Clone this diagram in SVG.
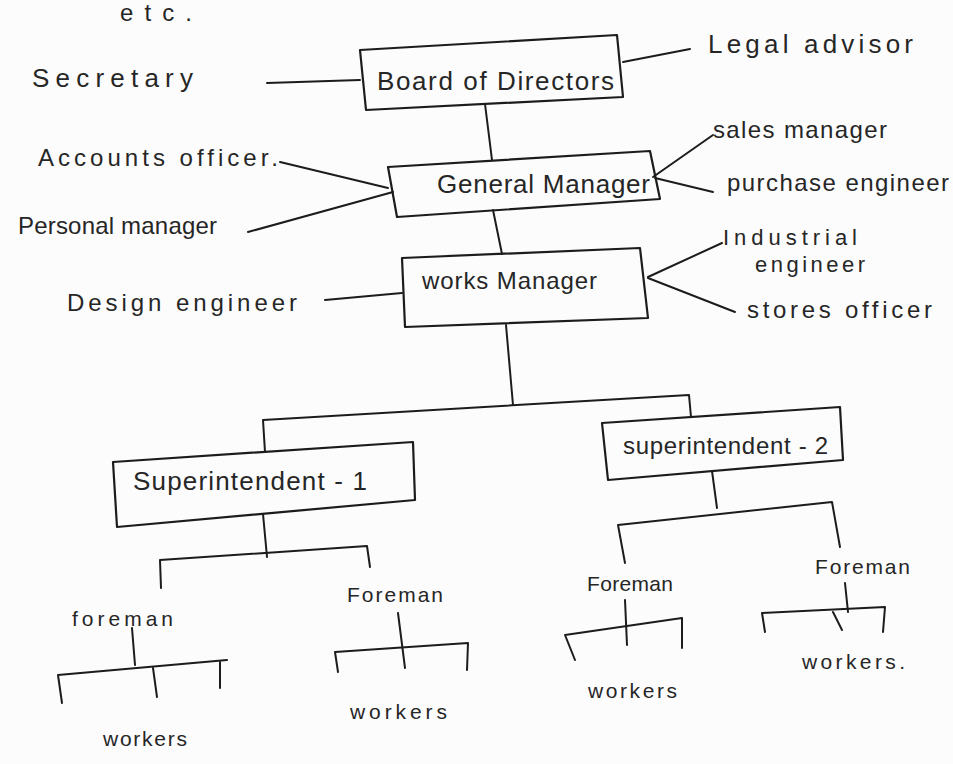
<svg xmlns="http://www.w3.org/2000/svg" width="953" height="764" viewBox="0 0 953 764">
  <style>
    .ink { fill: none; stroke: #1c1c1c; stroke-width: 2; stroke-linecap: round; stroke-linejoin: round; }
    .box { fill: none; stroke: #1c1c1c; stroke-width: 2.2; stroke-linejoin: round; }
    .lbl { font-family: "Liberation Sans", Arial, sans-serif; fill: #262626; }
    .l26 { font-size: 26px; }
    .l24 { font-size: 24px; }
    .l22 { font-size: 22px; }
    .l21 { font-size: 21px; }
  </style>
  <rect width="953" height="764" fill="#fcfcfc"/>

  <!-- hierarchy lines -->
  <g id="connectors" class="ink">
    <line x1="267" y1="83" x2="360" y2="80"/>
    <line x1="623" y1="62" x2="690" y2="49"/>
    <line x1="485" y1="104" x2="492" y2="160"/>
    <line x1="280" y1="162" x2="388" y2="188"/>
    <line x1="248" y1="232" x2="393" y2="192"/>
    <line x1="653" y1="177" x2="713" y2="135"/>
    <line x1="655" y1="178" x2="713" y2="192"/>
    <line x1="493" y1="210" x2="502" y2="254"/>
    <line x1="325" y1="300" x2="402" y2="293"/>
    <line x1="648" y1="277" x2="722" y2="243"/>
    <line x1="648" y1="278" x2="735" y2="312"/>

    <!-- works manager to superintendents -->
    <line x1="506" y1="325" x2="513" y2="405"/>
    <polyline points="265,452 263,420 689,395 691,417"/>

    <!-- superintendent 1 to foremen -->
    <line x1="263" y1="514" x2="267" y2="557"/>
    <polyline points="161,588 160,560 367,546 370,567"/>

    <!-- superintendent 2 to foremen -->
    <line x1="712" y1="471" x2="717" y2="508"/>
    <polyline points="625,563 618,525 832,502 840,547"/>

    <!-- foremen to workers -->
    <line x1="132" y1="628" x2="135" y2="665"/>
    <polyline points="62,703 58,675 227,660"/>
    <line x1="153" y1="668" x2="157" y2="697"/>
    <line x1="220" y1="662" x2="220" y2="688"/>

    <line x1="398" y1="613" x2="405" y2="668"/>
    <polyline points="338,672 335,652 468,643 467,670"/>

    <line x1="625" y1="600" x2="627" y2="645"/>
    <polyline points="575,660 565,635 682,618 682,648"/>

    <line x1="845" y1="583" x2="848" y2="612"/>
    <polyline points="765,632 762,613 885,607 883,632"/>
    <line x1="833" y1="612" x2="842" y2="630"/>
  </g>

  <g id="note">
    <text class="lbl l24" x="120" y="21" textLength="72">etc.</text>
  </g>

  <g id="board">
    <polygon class="box" points="360,50 617,35 623,97 366,110"/>
    <text class="lbl l26" x="377" y="90" textLength="237">Board of Directors</text>
  </g>
  <g id="secretary">
    <text class="lbl l26" x="32" y="87" textLength="161">Secretary</text>
  </g>
  <g id="legal-advisor">
    <text class="lbl l26" x="708" y="53" textLength="205">Legal advisor</text>
  </g>

  <g id="general-manager">
    <polygon class="box" points="388,167 650,151 660,199 397,217"/>
    <text class="lbl l26" x="437" y="193" textLength="213">General Manager</text>
  </g>
  <g id="accounts-officer">
    <text class="lbl l24" x="38" y="166" textLength="240">Accounts officer.</text>
  </g>
  <g id="personal-manager">
    <text class="lbl l24" x="18" y="234" textLength="199">Personal manager</text>
  </g>
  <g id="sales-manager">
    <text class="lbl l24" x="713" y="138" textLength="174">sales manager</text>
  </g>
  <g id="purchase-engineer">
    <text class="lbl l24" x="727" y="191" textLength="222">purchase engineer</text>
  </g>

  <g id="works-manager">
    <polygon class="box" points="402,258 640,248 648,318 405,327"/>
    <text class="lbl l24" x="422" y="289" textLength="175">works Manager</text>
  </g>
  <g id="design-engineer">
    <text class="lbl l24" x="67" y="311" textLength="230">Design engineer</text>
  </g>
  <g id="industrial-engineer">
    <text class="lbl l22" x="723" y="245" textLength="134">Industrial</text>
    <text class="lbl l22" x="755" y="272" textLength="110">engineer</text>
  </g>
  <g id="stores-officer">
    <text class="lbl l24" x="747" y="318" textLength="185">stores officer</text>
  </g>

  <g id="superintendent-1">
    <polygon class="box" points="113,462 413,442 415,500 117,527"/>
    <text class="lbl l26" x="133" y="490" textLength="234">Superintendent - 1</text>
  </g>
  <g id="superintendent-2">
    <polygon class="box" points="602,423 840,407 843,460 608,480"/>
    <text class="lbl l24" x="623" y="454" textLength="205">superintendent - 2</text>
  </g>

  <g id="foreman-1">
    <text class="lbl l21" x="72" y="626" textLength="101">foreman</text>
  </g>
  <g id="foreman-2">
    <text class="lbl l21" x="347" y="602" textLength="96">Foreman</text>
  </g>
  <g id="foreman-3">
    <text class="lbl l21" x="587" y="591" textLength="86">Foreman</text>
  </g>
  <g id="foreman-4">
    <text class="lbl l21" x="815" y="574" textLength="95">Foreman</text>
  </g>

  <g id="workers-1">
    <text class="lbl l21" x="103" y="746" textLength="84">workers</text>
  </g>
  <g id="workers-2">
    <text class="lbl l21" x="350" y="719" textLength="97">workers</text>
  </g>
  <g id="workers-3">
    <text class="lbl l21" x="588" y="698" textLength="89">workers</text>
  </g>
  <g id="workers-4">
    <text class="lbl l21" x="802" y="669" textLength="103">workers.</text>
  </g>
</svg>
